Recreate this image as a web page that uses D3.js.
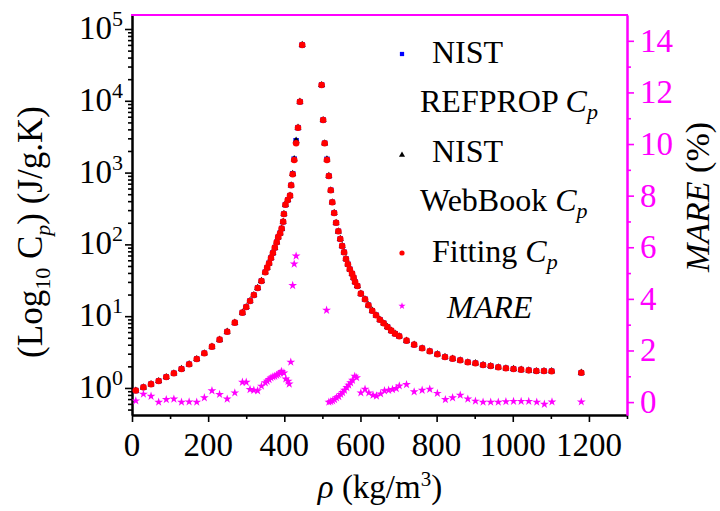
<!DOCTYPE html>
<html>
<head>
<meta charset="utf-8">
<script src="https://cdn.jsdelivr.net/npm/d3@7"></script>
<style>
  body { margin: 0; background: #fff; }
  svg { display: block; }
</style>
</head>
<body>
<svg width="720" height="511"></svg>
<script>
// density (kg/m3) for the Cp points
const rhoCp = [10, 30, 50, 70, 90, 110, 130, 150, 170, 190,
  210, 230, 250, 270, 290, 300, 310, 320, 330, 340,
  350, 355, 360, 365, 370, 375, 380, 384, 389, 393,
  397, 399, 403, 409, 415, 418, 422, 426, 431, 436,
  441, 447,
  498, 502, 506, 512, 517, 522, 526, 531, 536, 542,
  547, 552, 557, 562, 567, 572, 578, 582, 586, 592,
  601, 612, 621, 631, 641, 651, 661, 671, 681, 691,
  702, 721, 741, 762, 782, 802, 822, 842, 862, 882,
  902, 922, 942, 962, 982, 1002, 1022, 1042, 1062, 1082,
  1102, 1180];

// fitted Cp (J/g.K)
const cpFit = [0.92, 1.02, 1.13, 1.25, 1.42, 1.60, 1.84, 2.14, 2.53, 3.04,
  3.76, 4.71, 6.08, 8.12, 11.2, 13.4, 16.3, 19.7, 24.7, 30.9,
  40.9, 47.4, 54.6, 64.7, 75.9, 90, 107, 126, 143, 166,
  207, 265, 357, 415, 477, 665, 947, 1497, 2560, 4220,
  9710, 59900,
  16600, 5400, 2560, 1497, 897, 567, 386, 274, 200, 152,
  119, 95, 77.6, 62.7, 52.8, 45, 39.1, 34.4, 29.9, 26.3,
  20.6, 17.2, 14.2, 11.9, 10.3, 8.93, 7.96, 7.07, 6.28, 5.70,
  5.25, 4.56, 4.01, 3.57, 3.24, 2.95, 2.70, 2.56, 2.43, 2.28,
  2.21, 2.09, 2.02, 1.94, 1.88, 1.84, 1.80, 1.76, 1.72, 1.72,
  1.71, 1.63];

// NIST REFPROP Cp, same density grid
const cpRefprop = [0.92, 1.02, 1.13, 1.25, 1.42, 1.60, 1.84, 2.14, 2.53, 3.04,
  3.76, 4.71, 6.08, 8.12, 11.2, 13.4, 16.3, 19.7, 24.7, 30.9,
  40.9, 47.4, 54.6, 64.7, 75.9, 90, 107, 126, 143, 166,
  207, 265, 357, 415, 477, 665, 960, 1540, 2780, 4220,
  9710, 59900,
  16600, 5400, 2560, 1530, 897, 567, 386, 274, 200, 152,
  119, 95, 77.6, 62.7, 52.8, 45, 39.1, 34.4, 29.9, 26.3,
  20.6, 17.2, 14.2, 11.9, 10.3, 8.93, 7.96, 7.07, 6.28, 5.70,
  5.25, 4.56, 4.01, 3.57, 3.24, 2.95, 2.70, 2.56, 2.43, 2.28,
  2.21, 2.09, 2.02, 1.94, 1.88, 1.84, 1.80, 1.76, 1.72, 1.72,
  1.71, 1.63];

// WebBook values sit on top of the REFPROP ones at this scale
const cpWebbook = cpRefprop;

// MARE (%) points
const rhoMare = [10, 30, 50, 70, 90, 110, 130, 150, 170, 190,
  210, 230, 250, 270, 290, 300, 310, 320, 330, 340,
  350, 355, 360, 365, 370, 375, 380, 384, 389, 393,
  399, 404, 410, 413, 417, 422, 426, 431,
  511, 517, 522, 527, 532, 537, 543, 548, 553, 558,
  564, 569, 574, 579, 585, 590, 601, 612, 622, 633,
  642, 653, 663, 674, 684, 694, 702, 721, 741, 762,
  782, 802, 823, 842, 862, 882, 902, 922, 942, 962,
  982, 1002, 1022, 1042, 1063, 1083, 1103, 1180];
const mare = [0.05, 0.31, 0.23, 0.0, 0.10, 0.12, 0.0, 0.01, 0.0, 0.17,
  0.44, 0.30, 0.12, 0.36, 0.77, 0.77, 0.49, 0.46, 0.44, 0.62,
  0.75, 0.81, 0.88, 0.94, 0.98, 1.0, 1.04, 1.08, 1.13, 1.19,
  1.13, 0.90, 0.81, 0.70, 1.55, 4.52, 5.35, 5.66,
  3.56, 0.0, 0.02, 0.05, 0.10, 0.17, 0.22, 0.30, 0.37, 0.46,
  0.57, 0.66, 0.75, 0.85, 1.0, 0.95, 0.36, 0.50, 0.36, 0.27,
  0.24, 0.32, 0.44, 0.46, 0.49, 0.53, 0.63, 0.68, 0.40, 0.46,
  0.50, 0.34, 0.10, 0.17, 0.27, 0.12, 0.04, 0.0, 0.0, 0.0,
  0.02, 0.03, 0.03, 0.03, 0.0, -0.08, 0.01, 0.01];

const xTicks = [0, 200, 400, 600, 800, 1000, 1200];
const xMinor = [100, 300, 500, 700, 900, 1100, 1300];
const cpTicks = [1, 10, 100, 1000, 10000, 100000];
const mareTicks = [0, 2, 4, 6, 8, 10, 12, 14];
const mareMinor = [1, 3, 5, 7, 9, 11, 13];

const magenta = "#ff00ff";
const serif = '"Liberation Serif"';
const svg = d3.select('svg');

const x = d3.scaleLinear().domain([0, 1300]).range([132, 627]);
const yCp = d3.scaleLog().domain([0.42, 1.567e5]).range([415, 15]);
const yMare = d3.scaleLinear().domain([-0.5, 15]).range([415, 15]);

// axes
function styleAxis(g, col) {
  g.select('.domain').attr('stroke', col).attr('stroke-width', 2);
  g.selectAll('.tick line').attr('stroke', col).attr('stroke-width', 1.6);
  g.selectAll('.tick text').remove();
}

svg.append('g').attr('transform', 'translate(0,415)')
  .call(d3.axisBottom(x).tickValues(xTicks).tickSize(7).tickSizeOuter(0))
  .call(g => styleAxis(g, '#000'));
svg.append('g').attr('transform', 'translate(0,415)')
  .call(d3.axisBottom(x).tickValues(xMinor).tickSize(4).tickSizeOuter(0))
  .call(g => styleAxis(g, '#000'));

const cpMinor = yCp.ticks().filter(v => !cpTicks.includes(v));
svg.append('g').attr('transform', 'translate(132,0)')
  .call(d3.axisLeft(yCp).tickValues(cpTicks).tickSize(7).tickSizeOuter(0))
  .call(g => styleAxis(g, '#000'));
svg.append('g').attr('transform', 'translate(132,0)')
  .call(d3.axisLeft(yCp).tickValues(cpMinor).tickSize(4).tickSizeOuter(0))
  .call(g => styleAxis(g, '#000'));

svg.append('g').attr('transform', 'translate(627,0)')
  .call(d3.axisRight(yMare).tickValues(mareTicks).tickSize(7).tickSizeOuter(0))
  .call(g => styleAxis(g, magenta));
svg.append('g').attr('transform', 'translate(627,0)')
  .call(d3.axisRight(yMare).tickValues(mareMinor).tickSize(4).tickSizeOuter(0))
  .call(g => styleAxis(g, magenta));

// top border
svg.append('line')
  .attr('x1', 131).attr('x2', 628).attr('y1', 15).attr('y2', 15)
  .attr('stroke', magenta).attr('stroke-width', 2);

// tick labels
svg.selectAll('text.xlab').data(xTicks).enter().append('text')
  .attr('class', 'xlab')
  .attr('x', d => x(d)).attr('y', 456)
  .attr('text-anchor', 'middle')
  .style('font-family', serif)
  .style('font-size', '33px')
  .text(d => d);

const cpLab = svg.selectAll('text.ylab').data(cpTicks).enter().append('text')
  .attr('class', 'ylab')
  .attr('x', 123).attr('y', d => yCp(d) + 10)
  .attr('text-anchor', 'end')
  .style('font-family', serif)
  .style('font-size', '33px');
cpLab.append('tspan').text('10');
cpLab.append('tspan').attr('dy', -13).style('font-size', '22px')
  .text(d => Math.round(Math.log10(d)));

svg.selectAll('text.rlab').data(mareTicks).enter().append('text')
  .attr('class', 'rlab')
  .attr('x', 640).attr('y', d => yMare(d) + 11)
  .style('font-family', serif)
  .style('font-size', '33px')
  .style('fill', magenta)
  .text(d => d);

// axis titles
const xt = svg.append('text')
  .attr('x', 380).attr('y', 498)
  .attr('text-anchor', 'middle')
  .style('font-family', serif)
  .style('font-size', '33px');
xt.append('tspan').style('font-style', 'italic').text('ρ');
xt.append('tspan').text(' (kg/m');
xt.append('tspan').attr('dy', -12).style('font-size', '21px').text('3');
xt.append('tspan').attr('dy', 12).text(')');

const yt = svg.append('text')
  .attr('transform', 'translate(42,232) rotate(-90)')
  .attr('text-anchor', 'middle')
  .style('font-family', serif)
  .style('font-size', '35px');
yt.append('tspan').text('(Log');
yt.append('tspan').attr('dy', 8).style('font-size', '22px').text('10');
yt.append('tspan').attr('dy', -8).text(' C');
yt.append('tspan').attr('dy', 8).style('font-size', '22px').style('font-style', 'italic').text('p');
yt.append('tspan').attr('dy', -8).text(') (J/g.K)');

const rt = svg.append('text')
  .attr('transform', 'translate(709,197) rotate(-90)')
  .attr('text-anchor', 'middle')
  .style('font-family', serif)
  .style('font-size', '34px');
rt.append('tspan').style('font-style', 'italic').text('MARE');
rt.append('tspan').text(' (%)');

// data points
const cpRows = rhoCp.map((r, i) => ({ rho: r, ref: cpRefprop[i], web: cpWebbook[i], fit: cpFit[i] }));
const mareRows = rhoMare.map((r, i) => ({ rho: r, v: mare[i] }));

svg.selectAll('path.ref').data(cpRows).enter().append('path')
  .attr('class', 'ref')
  .attr('d', d3.symbol(d3.symbolSquare, 30))
  .attr('transform', d => `translate(${x(d.rho)},${yCp(d.ref)})`)
  .style('fill', '#0000ff');

svg.selectAll('path.web').data(cpRows).enter().append('path')
  .attr('class', 'web')
  .attr('d', d3.symbol(d3.symbolTriangle, 22))
  .attr('transform', d => `translate(${x(d.rho)},${yCp(d.web)})`)
  .style('fill', '#000');

svg.selectAll('circle.fit').data(cpRows).enter().append('circle')
  .attr('class', 'fit')
  .attr('cx', d => x(d.rho)).attr('cy', d => yCp(d.fit))
  .attr('r', 3.3)
  .style('fill', '#ff0000');

svg.selectAll('path.mare').data(mareRows).enter().append('path')
  .attr('class', 'mare')
  .attr('d', d3.symbol(d3.symbolStar, 24))
  .attr('transform', d => `translate(${x(d.rho)},${yMare(d.v)})`)
  .style('fill', magenta);

// legend
const lg = svg.append('g');
lg.append('path').attr('d', d3.symbol(d3.symbolSquare, 18)).attr('transform', 'translate(402,54)').style('fill', '#0000ff');
lg.append('path').attr('d', d3.symbol(d3.symbolTriangle, 16)).attr('transform', 'translate(402,155)').style('fill', '#000');
lg.append('circle').attr('cx', 402).attr('cy', 253).attr('r', 2.6).style('fill', '#ff0000');
lg.append('path').attr('d', d3.symbol(d3.symbolStar, 16)).attr('transform', 'translate(402,306)').style('fill', magenta);

function legendText(xx, yy) {
  return lg.append('text').attr('x', xx).attr('y', yy)
    .style('font-family', serif).style('font-size', '32px');
}
function cpText(label, xx, yy) {
  const el = legendText(xx, yy);
  el.append('tspan').text(label + ' ');
  el.append('tspan').style('font-style', 'italic').text('C');
  el.append('tspan').attr('dy', 7).style('font-size', '22px').style('font-style', 'italic').text('p');
}
legendText(432, 63).text('NIST');
cpText('REFPROP', 420, 112);
legendText(432, 162).text('NIST');
cpText('WebBook', 420, 211);
cpText('Fitting', 432, 262);
legendText(447, 318).style('font-style', 'italic').text('MARE');
</script>
</body>
</html>
